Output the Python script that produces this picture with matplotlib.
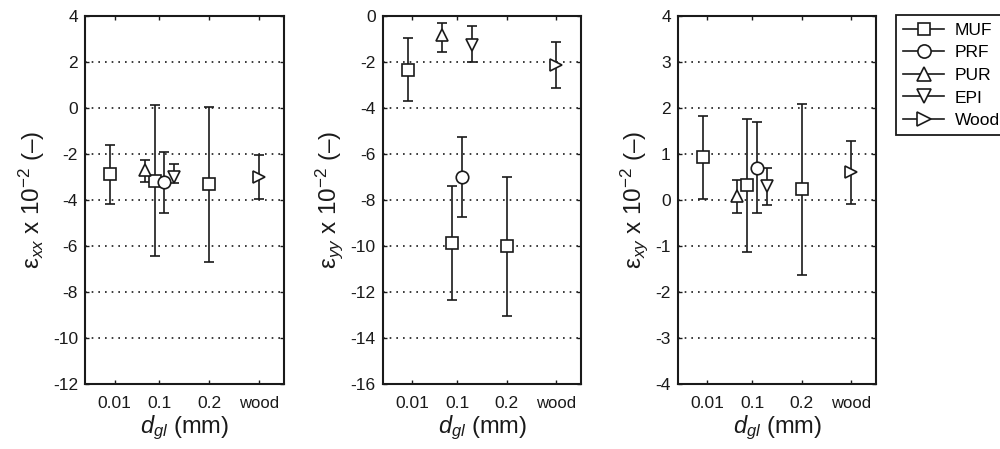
import matplotlib
matplotlib.use("Agg")
import matplotlib.pyplot as plt
from matplotlib.lines import Line2D

plt.rcParams["font.family"] = ["Liberation Sans", "DejaVu Sans"]
plt.rcParams["mathtext.fontset"] = "custom"
plt.rcParams["mathtext.rm"] = "Liberation Sans"
plt.rcParams["mathtext.it"] = "Liberation Sans:italic"
plt.rcParams["mathtext.default"] = "regular"
plt.rcParams["axes.unicode_minus"] = False

# x positions of the tick marks (glue-line thickness, mm; "wood" drawn at 0.3)
tick_pos = [0.01, 0.1, 0.2, 0.3]
tick_labels = ["0.01", "0.1", "0.2", "wood"]

adhesives = ["MUF", "PRF", "PUR", "EPI", "Wood"]
markers = {"MUF": "s", "PRF": "o", "PUR": "^", "EPI": "v", "Wood": ">"}
marker_size = {"MUF": 8, "PRF": 9, "PUR": 9, "EPI": 9, "Wood": 9}

# plotting x positions of each adhesive's points
x_pos = {
    "MUF": [0.0, 0.09, 0.2],
    "PRF": [0.11],
    "PUR": [0.07],
    "EPI": [0.13],
    "Wood": [0.30],
}

# strain eps_xx (x 10^-2): mean, upper, lower
exx_mean = {"MUF": [-2.9, -3.2, -3.3], "PRF": [-3.25], "PUR": [-2.7], "EPI": [-3.0], "Wood": [-3.03]}
exx_hi = {"MUF": [-1.6, 0.1, 0.05], "PRF": [-1.93], "PUR": [-2.27], "EPI": [-2.46], "Wood": [-2.06]}
exx_lo = {"MUF": [-4.2, -6.43, -6.7], "PRF": [-4.59], "PUR": [-3.23], "EPI": [-3.26], "Wood": [-3.98]}

# strain eps_yy (x 10^-2)
eyy_mean = {"MUF": [-2.36, -9.9, -10.0], "PRF": [-7.03], "PUR": [-0.84], "EPI": [-1.27], "Wood": [-2.13]}
eyy_hi = {"MUF": [-0.97, -7.4, -7.0], "PRF": [-5.29], "PUR": [-0.30], "EPI": [-0.46], "Wood": [-1.15]}
eyy_lo = {"MUF": [-3.72, -12.37, -13.04], "PRF": [-8.77], "PUR": [-1.57], "EPI": [-2.0], "Wood": [-3.13]}

# strain eps_xy (x 10^-2)
exy_mean = {"MUF": [0.93, 0.33, 0.23], "PRF": [0.68], "PUR": [0.08], "EPI": [0.29], "Wood": [0.60]}
exy_hi = {"MUF": [1.83, 1.76, 2.08], "PRF": [1.68], "PUR": [0.42], "EPI": [0.70], "Wood": [1.28]}
exy_lo = {"MUF": [0.02, -1.13, -1.64], "PRF": [-0.28], "PUR": [-0.29], "EPI": [-0.11], "Wood": [-0.09]}

panels = [
    (exx_mean, exx_hi, exx_lo, (-12, 4), list(range(-12, 5, 2)), r"ε$_{\mathit{xx}}$ x 10$^{-2}$ (–)"),
    (eyy_mean, eyy_hi, eyy_lo, (-16, 0), list(range(-16, 1, 2)), r"ε$_{\mathit{yy}}$ x 10$^{-2}$ (–)"),
    (exy_mean, exy_hi, exy_lo, (-4, 4), list(range(-4, 5, 1)), r"ε$_{\mathit{xy}}$ x 10$^{-2}$ (–)"),
]

ink = "#1a1a1a"
fig = plt.figure(figsize=(10, 4.49), dpi=100)
lefts = [0.085, 0.3827, 0.6777]
width, bottom, height = 0.1986, 0.1454, 0.8196

for left, (mean, hi, lo, ylim, yticks, ylabel) in zip(lefts, panels):
    ax = fig.add_axes([left, bottom, width, height])
    for name in adhesives:
        xs = x_pos[name]
        m = mean[name]
        yerr = [[a - b for a, b in zip(m, lo[name])], [b - a for a, b in zip(m, hi[name])]]
        ax.errorbar(xs, m, yerr=yerr, fmt=markers[name], color=ink, mfc="white",
                    mec=ink, ms=marker_size[name], mew=1.2, elinewidth=1.2,
                    capsize=3.5, capthick=1.2, zorder=3)
    ax.set_xlim(-0.05, 0.35)
    ax.set_ylim(*ylim)
    ax.set_xticks(tick_pos)
    ax.set_xticklabels(tick_labels)
    ax.set_yticks(yticks)
    ax.yaxis.grid(True, linestyle=(0, (1, 3)), color=ink, linewidth=1.2)
    ax.set_axisbelow(True)
    ax.tick_params(direction="in", length=3, width=1, top=True, right=True,
                   labelsize=12.5, colors=ink)
    ax.tick_params(axis="x", pad=9)
    ax.tick_params(axis="y", pad=5)
    for lab in ax.get_xticklabels():
        if lab.get_text() == "wood":
            lab.set_fontsize(12)
    for sp in ax.spines.values():
        sp.set_linewidth(1.5)
        sp.set_color(ink)
    ax.set_ylabel(ylabel, fontsize=17.5, color=ink, labelpad=4)
    ax.set_xlabel(r"$\mathit{d}_{\mathit{gl}}$ (mm)", fontsize=17, color=ink, labelpad=2)

handles = [Line2D([], [], color=ink, marker=markers[n], mfc="white", mec=ink,
                  ms=marker_size[n] + 0.5, mew=1.2, lw=1.2) for n in adhesives]
fig.legend(handles, adhesives, loc="upper left", bbox_to_anchor=(0.896, 0.966),
           fontsize=12.5, frameon=True, fancybox=False, edgecolor=ink, framealpha=1,
           handlelength=2.35, handletextpad=0.6, labelspacing=0.43, borderpad=0.42,
           borderaxespad=0).get_frame().set_linewidth(1.3)

fig.savefig("out.png", dpi=100)
